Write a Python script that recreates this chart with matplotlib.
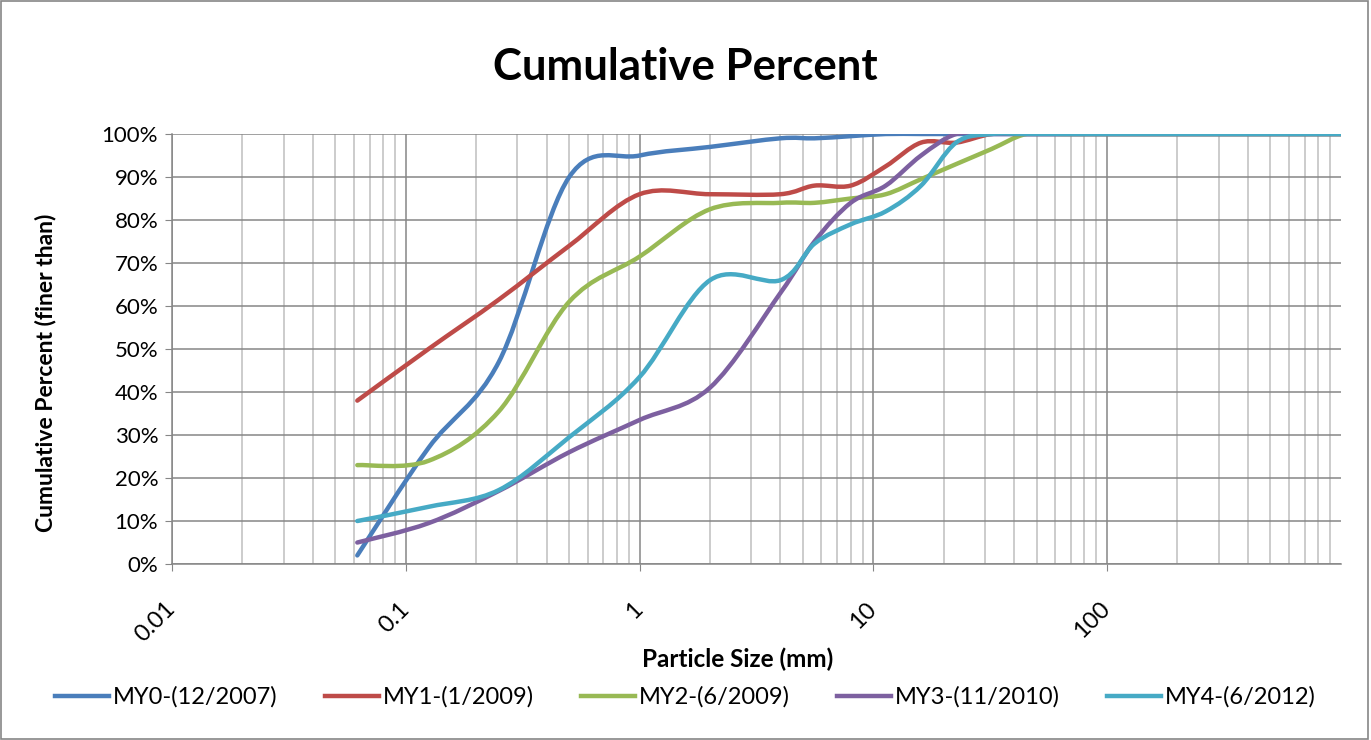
import matplotlib
matplotlib.use("Agg")
import matplotlib.pyplot as plt
import numpy as np
from matplotlib.path import Path
from matplotlib.patches import PathPatch, Rectangle
from matplotlib.lines import Line2D
from matplotlib.ticker import FixedLocator, LogLocator, NullFormatter

plt.rcParams['font.family'] = ['Lato', 'DejaVu Sans']

# sieve sizes (mm)
sizes = [0.062, 0.125, 0.25, 0.5, 1, 2, 4, 5.6, 8, 11.3, 16, 22.6, 32, 45,
         64, 90, 128, 180, 256, 362, 512, 1024, 2048]

# cumulative percent finer than
my0 = [2, 27, 47, 90, 95, 97, 99, 99, 99.5, 100, 100, 100, 100, 100,
       100, 100, 100, 100, 100, 100, 100, 100, 100]
my1 = [38, 50, 61.5, 74, 86, 86, 86, 88, 88, 92.5, 98, 98, 100, 100,
       100, 100, 100, 100, 100, 100, 100, 100, 100]
my2 = [23, 24, 35.5, 61, 71.5, 82.5, 84, 84, 85, 86, 89.5, 93, 96.5, 100,
       100, 100, 100, 100, 100, 100, 100, 100, 100]
my3 = [5, 9.5, 17, 26, 33.5, 41, 63, 75, 84, 88, 95, 100, 100, 100,
       100, 100, 100, 100, 100, 100, 100, 100, 100]
my4 = [10, 13.3, 17.2, 29.5, 43.5, 66, 66, 74.5, 79, 82, 88, 98, 100, 100,
       100, 100, 100, 100, 100, 100, 100, 100, 100]

series = [my0, my1, my2, my3, my4]
labels = ["MY0-(12/2007)", "MY1-(1/2009)", "MY2-(6/2009)", "MY3-(11/2010)", "MY4-(6/2012)"]
colors = ["#4A7EBB", "#BE4B48", "#98B954", "#7D60A0", "#46AAC5"]

x_ticks = [0.01, 0.1, 1, 10, 100]
x_tick_labels = ["0.01", "0.1", "1", "10", "100"]
y_ticks = list(range(0, 101, 10))


def smooth_path(xs, ys):
    # Excel-like smoothed line: cubic bezier through the points in log-x space
    lx = np.log10(xs)
    ys = np.asarray(ys, dtype=float)
    n = len(lx)
    verts = [(xs[0], ys[0])]
    codes = [Path.MOVETO]
    for i in range(n - 1):
        i0 = max(i - 1, 0)
        i3 = min(i + 2, n - 1)
        c1x = lx[i] + (lx[i + 1] - lx[i0]) / 6
        c1y = ys[i] + (ys[i + 1] - ys[i0]) / 6
        c2x = lx[i + 1] - (lx[i3] - lx[i]) / 6
        c2y = ys[i + 1] - (ys[i3] - ys[i]) / 6
        verts += [(10 ** c1x, c1y), (10 ** c2x, c2y), (xs[i + 1], ys[i + 1])]
        codes += [Path.CURVE4] * 3
    return Path(verts, codes)


fig = plt.figure(figsize=(13.71, 7.40), dpi=100, facecolor="white")
ax = fig.add_axes([0.1255, 0.2378, 0.8525, 0.5811])

ax.set_xscale("log")
ax.set_xlim(0.01, 1000)
ax.set_ylim(0, 100)

for vals, col in zip(series, colors):
    patch = PathPatch(smooth_path(sizes, vals), facecolor="none", edgecolor=col,
                      lw=3.2, capstyle="round", joinstyle="round", zorder=3)
    ax.add_patch(patch)

ax.xaxis.set_major_locator(FixedLocator(x_ticks))
ax.set_xticklabels(x_tick_labels, rotation=45, fontsize=17,
                   ha="right", va="center", rotation_mode="anchor")
ax.xaxis.set_minor_locator(LogLocator(base=10, subs=np.arange(2, 10)))
ax.xaxis.set_minor_formatter(NullFormatter())
ax.set_yticks(y_ticks)
ax.set_yticklabels([f"{v}%" for v in y_ticks], fontsize=16)

ax.grid(True, which="major", color="#868686", lw=1.1)
ax.grid(True, which="minor", axis="x", color="#BFBFBF", lw=1.1)
ax.set_axisbelow(True)

for s in ["top", "right"]:
    ax.spines[s].set_visible(False)
for s in ["left", "bottom"]:
    ax.spines[s].set_color("#868686")
    ax.spines[s].set_linewidth(1.1)
ax.tick_params(axis="both", which="major", length=5, color="#868686")
ax.tick_params(axis="y", which="major", pad=5)
ax.tick_params(axis="x", which="major", pad=25)
ax.tick_params(axis="x", which="minor", length=0)

fig.text(0.5, 0.909, "Cumulative Percent", fontsize=31.5, fontweight="bold",
         ha="center", va="center")

ax.set_xlabel("Particle Size (mm)", fontsize=17.5, fontweight="bold")
ax.xaxis.set_label_coords(0.4837, -0.221)
ax.xaxis.label.set_va("center")
ax.set_ylabel("Cumulative Percent (finer than)", fontsize=16.5, fontweight="bold")
ax.yaxis.set_label_coords(-0.1086, 0.444)
ax.yaxis.label.set_va("center")

handles = [Line2D([], [], color=c, lw=3.2) for c in colors]
fig.legend(handles, labels, loc="center", bbox_to_anchor=(0.5, 0.058), ncol=5,
           frameon=False, fontsize=17, handlelength=2.3, handletextpad=0.15,
           columnspacing=2.0)

fig.patches.append(Rectangle((0.001, 0.002), 0.997, 0.996, transform=fig.transFigure,
                             fill=False, edgecolor="#868686", lw=1.2))

fig.savefig("out.png", dpi=100, facecolor="white")
